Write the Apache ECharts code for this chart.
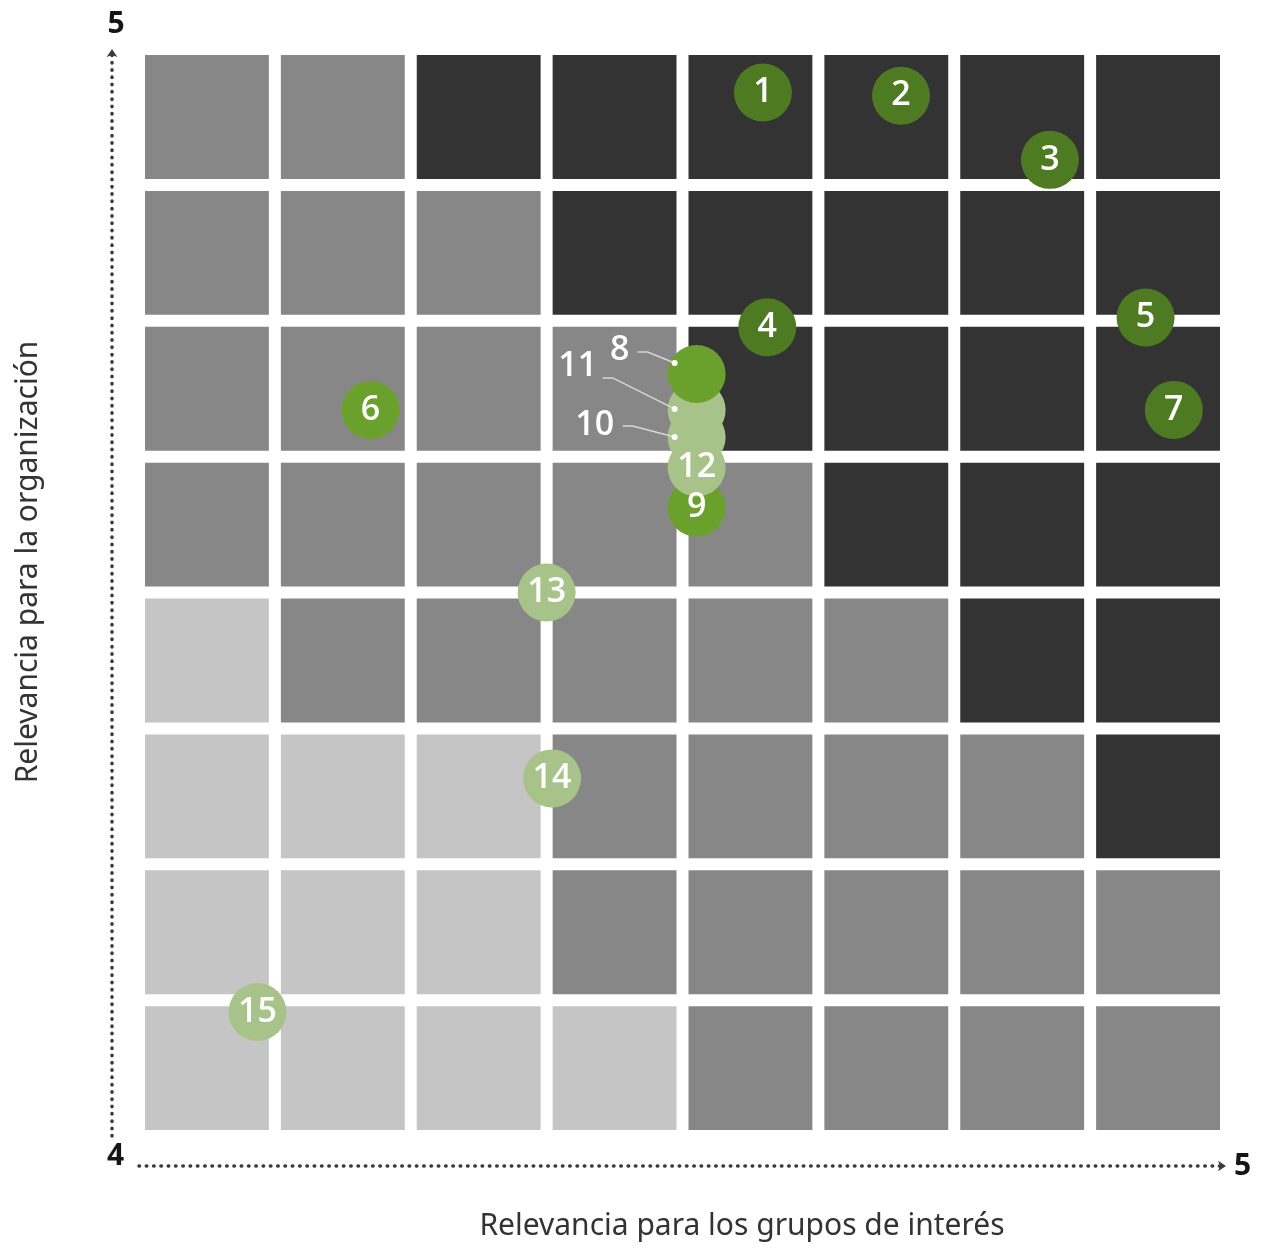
<!DOCTYPE html>
<html>
<head>
<meta charset="utf-8">
<script src="https://cdn.jsdelivr.net/npm/echarts@6/dist/echarts.min.js"></script>
<style>
  html, body { margin: 0; padding: 0; background: #ffffff; }
  #chart { width: 1263px; height: 1250px; }
</style>
</head>
<body>
<div id="chart"></div>
<script>
// ---------- DATA ----------
const axisMin = 4;
const axisMax = 5;
const gridSteps = 8;
// shade of each square, rows listed from top to bottom, columns left to right
// L = light, M = medium, D = dark
const shadeRows = [
  'MMDDDDDD',
  'MMMDDDDD',
  'MMMMDDDD',
  'MMMMMDDD',
  'LMMMMMDD',
  'LLLMMMMD',
  'LLLMMMMM',
  'LLLLMMMM'
];
// bubbles (drawing order: later ones are on top)
const bubbleIds   = ['1', '2', '3', '4', '5', '6', '7', '9', '12', '10', '11', '8', '13', '14', '15'];
const bubbleX     = [4.574, 4.701, 4.838, 4.578, 4.926, 4.213, 4.952, 4.513, 4.513, 4.513, 4.513, 4.513, 4.375, 4.380, 4.109];
const bubbleY     = [4.960, 4.957, 4.898, 4.744, 4.753, 4.668, 4.668, 4.578, 4.615, 4.643, 4.668, 4.701, 4.500, 4.329, 4.114];
const bubbleGroup = ['dark', 'dark', 'dark', 'dark', 'dark', 'bright', 'dark', 'bright', 'light', 'light', 'light', 'bright', 'light', 'light', 'light'];
// bubbles whose number sits outside, with a leader line
const calloutIds = ['8', '11', '10'];

const xTitle = 'Relevancia para los grupos de interés';
const yTitle = 'Relevancia para la organización';

// ---------- STYLE ----------
const shadeColors = { L: '#c5c5c5', M: '#878787', D: '#333333' };
const groupColors = { dark: '#4e7a22', bright: '#6aa12c', light: '#a8c38a' };
const cellGap = 12;
const bubbleSize = 58;
// pixel offsets relative to bubble centre: text centre, line start, dot
const calloutLayout = {
  '8':  { text: [-77, -24], start: [-59, -22], dot: [-22, -11] },
  '11': { text: [-119, -44], start: [-94, -32], dot: [-22, -1] },
  '10': { text: [-102, -12], start: [-74, -11], dot: [-22, 0] }
};
const numberFont = '"Open Sans", "Noto Sans", sans-serif';
const titleFont = '"Noto Sans", "Open Sans", sans-serif';

// ---------- BUILD ----------
const step = (axisMax - axisMin) / gridSteps;
const cellData = [];
shadeRows.forEach((row, r) => {
  row.split('').forEach((s, c) => cellData.push([c, r, s]));
});

const bubbleData = bubbleIds.map((id, i) => {
  const item = { value: [bubbleX[i], bubbleY[i]], name: id,
    itemStyle: { color: groupColors[bubbleGroup[i]], opacity: 1 } };
  if (calloutIds.indexOf(id) >= 0) item.label = { show: false };
  return item;
});

const calloutData = calloutIds.map(id => {
  const i = bubbleIds.indexOf(id);
  return { value: [bubbleX[i], bubbleY[i]], name: id };
});

const chart = echarts.init(document.getElementById('chart'), null, { renderer: 'canvas' });

const dottedAxisLine = {
  show: true,
  symbol: ['none', 'arrow'],
  symbolSize: [8, 8],
  lineStyle: { color: '#3a3a3a', width: 3.5, type: [0.5, 6.8], cap: 'round' }
};

chart.setOption({
  backgroundColor: '#ffffff',
  animation: false,
  grid: { left: 139, right: 37, top: 49, bottom: 114 },
  xAxis: {
    type: 'value', min: axisMin, max: axisMax,
    offset: 30,
    axisLine: dottedAxisLine,
    axisTick: { show: false }, axisLabel: { show: false }, splitLine: { show: false },
    name: String(axisMax), nameLocation: 'end', nameGap: 8,
    nameTextStyle: { fontSize: 30, fontWeight: 'bold', color: '#151515', fontFamily: numberFont, verticalAlign: 'middle' }
  },
  yAxis: {
    type: 'value', min: axisMin, max: axisMax,
    offset: 27,
    axisLine: dottedAxisLine,
    axisTick: { show: false }, axisLabel: { show: false }, splitLine: { show: false },
    name: String(axisMax), nameLocation: 'end', nameGap: 10,
    nameTextStyle: { fontSize: 30, fontWeight: 'bold', color: '#151515', fontFamily: numberFont, align: 'center', padding: [0, 0, 0, 8] }
  },
  graphic: [
    { type: 'text', left: 107, top: 1141, z: 10,
      style: { text: String(axisMin), fontSize: 30, fontWeight: 'bold', fill: '#151515', fontFamily: numberFont } },
    { type: 'text', x: 742, y: 1226, z: 10,
      style: { text: xTitle, fontSize: 30, fill: '#333333', fontFamily: titleFont, align: 'center', verticalAlign: 'middle' } },
    { type: 'text', x: 28, y: 562, rotation: Math.PI / 2, z: 10,
      style: { text: yTitle, fontSize: 30, fill: '#333333', fontFamily: titleFont, align: 'center', verticalAlign: 'middle' } }
  ],
  series: [
    {
      type: 'custom',
      silent: true,
      z: 1,
      data: cellData,
      renderItem: function (params, api) {
        const c = api.value(0), r = api.value(1);
        const s = cellData[params.dataIndex][2];
        const p0 = api.coord([axisMin + c * step, axisMax - r * step]);
        const p1 = api.coord([axisMin + (c + 1) * step, axisMax - (r + 1) * step]);
        return {
          type: 'rect',
          shape: { x: p0[0] + cellGap / 2, y: p0[1] + cellGap / 2,
                   width: p1[0] - p0[0] - cellGap, height: p1[1] - p0[1] - cellGap },
          style: { fill: shadeColors[s] }
        };
      }
    },
    {
      type: 'scatter',
      z: 3,
      symbol: 'circle',
      symbolSize: bubbleSize,
      data: bubbleData,
      itemStyle: { opacity: 1 },
      label: {
        show: true, position: 'inside',
        formatter: p => p.name,
        color: '#ffffff', fontSize: 34, fontWeight: 600, fontFamily: numberFont
      },
      emphasis: { disabled: true }
    },
    {
      type: 'custom',
      z: 5,
      silent: true,
      data: calloutData,
      renderItem: function (params, api) {
        const id = calloutData[params.dataIndex].name;
        const L = calloutLayout[id];
        const p = api.coord([api.value(0), api.value(1)]);
        const sx = p[0] + L.start[0], sy = p[1] + L.start[1];
        const dx = p[0] + L.dot[0], dy = p[1] + L.dot[1];
        return {
          type: 'group',
          children: [
            { type: 'polyline',
              shape: { points: [[sx, sy], [sx + 10, sy], [dx, dy]] },
              style: { stroke: '#d8d8d8', lineWidth: 1.5, fill: null } },
            { type: 'circle', shape: { cx: dx, cy: dy, r: 3 }, style: { fill: '#ffffff' } },
            { type: 'text',
              style: { x: p[0] + L.text[0], y: p[1] + L.text[1], text: id,
                       fill: '#ffffff', fontSize: 34, fontWeight: 600, fontFamily: numberFont,
                       align: 'center', verticalAlign: 'middle' } }
          ]
        };
      }
    }
  ]
});
</script>
</body>
</html>
